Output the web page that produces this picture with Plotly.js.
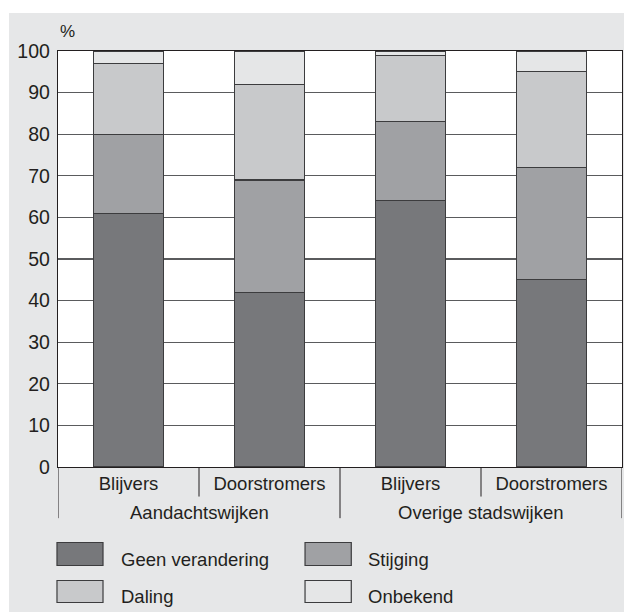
<!DOCTYPE html>
<html>
<head>
<meta charset="utf-8">
<script src="https://cdn.plot.ly/plotly-3.0.1.min.js"></script>
<style>
html,body{margin:0;padding:0;background:#ffffff;width:624px;height:612px;overflow:hidden;}
#chart{position:absolute;left:9px;top:13px;width:615px;height:599px;}
</style>
</head>
<body>
<div id="chart"></div>
<script>
// Data
const groups = ['Aandachtswijken', 'Overige stadswijken'];
const subCategories = ['Blijvers', 'Doorstromers', 'Blijvers', 'Doorstromers'];
const seriesNames = ['Geen verandering', 'Stijging', 'Daling', 'Onbekend'];
const geenVerandering = [61, 42, 64, 45];
const stijging = [19, 27, 19, 27];
const daling = [17, 23, 16, 23];
const onbekend = [3, 8, 1, 5];
const yTicks = [0, 10, 20, 30, 40, 50, 60, 70, 80, 90, 100];

const colors = ['#77787b', '#a0a1a4', '#c8c9cb', '#e5e6e7'];
const outline = '#3c3c3e';
const textColor = '#231f20';
const font = '"Liberation Sans", Arial, Helvetica, sans-serif';

const xPos = subCategories.map((_, i) => i);
const values = [geenVerandering, stijging, daling, onbekend];

const traces = values.map((v, k) => ({
  type: 'bar',
  name: seriesNames[k],
  x: xPos,
  y: v,
  marker: {color: colors[k], line: {color: outline, width: 1.2}},
  hoverinfo: 'none',
  showlegend: false
}));

const shapes = [];
const annotations = [];

// Dividers under the x axis
const dividerPositions = [-0.5, 0.5, 1.5, 2.5, 3.5];
dividerPositions.forEach((p, i) => {
  const long = (i % 2 === 0);
  shapes.push({type: 'line', xref: 'x', yref: 'paper', x0: p, x1: p, y0: 0,
    y1: long ? -0.123 : -0.071, line: {color: textColor, width: 1}});
});

// Group labels
groups.forEach((g, i) => {
  annotations.push({xref: 'x', yref: 'paper', x: i * 2 + 0.5, y: -0.109, text: g,
    showarrow: false, xanchor: 'center', yanchor: 'middle',
    font: {family: font, size: 18.5, color: textColor}});
});

// % label
annotations.push({xref: 'paper', yref: 'paper', x: 0.0, y: 1.047, text: '%', showarrow: false,
  xanchor: 'left', yanchor: 'middle', font: {family: font, size: 17, color: textColor}});

// Manual legend (2 columns)
const legBoxX = [[-0.0018, 0.0798], [0.438, 0.52]];
const legTextX = [0.108, 0.546];
const legBoxY = [[-0.1815, -0.2368], [-0.2728, -0.3257]];
const legTextY = [-0.2234, -0.3123];
seriesNames.forEach((n, k) => {
  const col = k % 2, row = Math.floor(k / 2);
  shapes.push({type: 'rect', xref: 'paper', yref: 'paper',
    x0: legBoxX[col][0], x1: legBoxX[col][1], y0: legBoxY[row][0], y1: legBoxY[row][1],
    fillcolor: colors[k], line: {color: outline, width: 1.2}});
  annotations.push({xref: 'paper', yref: 'paper', x: legTextX[col], y: legTextY[row], text: n,
    showarrow: false, xanchor: 'left', yanchor: 'middle',
    font: {family: font, size: 18.5, color: textColor}});
});

const layout = {
  width: 615, height: 599,
  margin: {l: 49, r: 2, t: 38, b: 145},
  paper_bgcolor: '#e6e7e8',
  plot_bgcolor: '#ffffff',
  barmode: 'stack',
  bargap: 0.5,
  font: {family: font, size: 18, color: textColor},
  xaxis: {
    range: [-0.5, 3.5], tickmode: 'array', tickvals: xPos, ticktext: subCategories,
    showgrid: false, zeroline: false, showline: true, mirror: true,
    linecolor: textColor, linewidth: 1.2, ticks: '', fixedrange: true,
    tickfont: {family: font, size: 18.5, color: textColor}
  },
  yaxis: {
    range: [0, 100], tickmode: 'array', tickvals: yTicks,
    showgrid: true, gridcolor: '#5a5b5d', gridwidth: 1.2,
    zeroline: false, showline: true, mirror: true, linecolor: textColor, linewidth: 1.2,
    ticks: '', ticklabelstandoff: 3, fixedrange: true,
    tickfont: {family: font, size: 19.5, color: textColor}
  },
  shapes: shapes,
  annotations: annotations
};

Plotly.newPlot('chart', traces, layout, {displayModeBar: false, staticPlot: true});
</script>
</body>
</html>
